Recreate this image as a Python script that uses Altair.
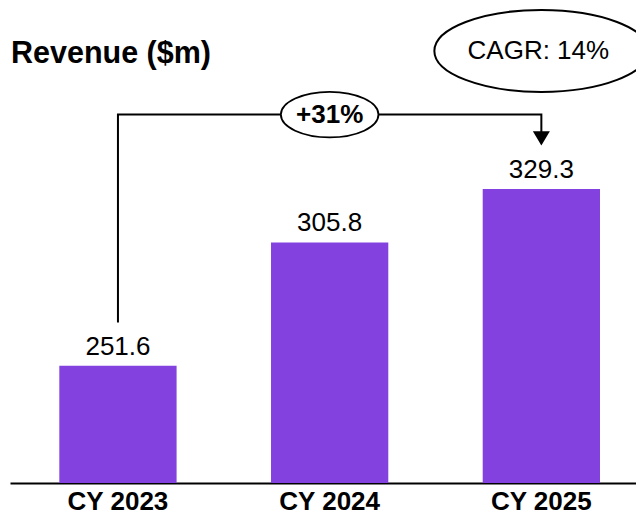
import altair as alt
import pandas as pd

# ---- data ----
years = ["CY 2023", "CY 2024", "CY 2025"]
revenue = [251.6, 305.8, 329.3]
growth_text = "+31%"
cagr_text = "CAGR: 14%"
title_text = "Revenue ($m)"

# ---- annotation levels (data units on the revenue scale) ----
AXIS_MIN = 200
AXIS_MAX = 378.1
BRACKET_LEVEL = 362.0
LABEL_GAP = 19.0
ARROW_LEVEL = 352.2
CAGR_LEVEL = 390.0

FONT = "Liberation Sans"
PURPLE = "#8342DF"


def ellipse_path(ry):
    k = 0.5523
    return (
        f"M-1,0C-1,{-ry*k:.4f} {-k},{-ry:.4f} 0,{-ry:.4f}"
        f"C{k},{-ry:.4f} 1,{-ry*k:.4f} 1,0"
        f"C1,{ry*k:.4f} {k},{ry:.4f} 0,{ry:.4f}"
        f"C{-k},{ry:.4f} -1,{ry*k:.4f} -1,0Z"
    )


bars_df = pd.DataFrame({"year": years, "v": revenue})
bracket_df = pd.DataFrame({
    "year": [years[0], years[0], years[2], years[2]],
    "v": [revenue[0] + LABEL_GAP, BRACKET_LEVEL, BRACKET_LEVEL, ARROW_LEVEL],
    "order": [0, 1, 2, 3],
})
growth_df = pd.DataFrame({"year": [years[1]], "v": [BRACKET_LEVEL], "text": [growth_text]})
arrow_df = pd.DataFrame({"year": [years[2]], "v": [ARROW_LEVEL]})
cagr_df = pd.DataFrame({"year": [years[2]], "v": [CAGR_LEVEL], "text": [cagr_text]})
title_df = pd.DataFrame({"text": [title_text]})

x_enc = alt.X(
    "year:N",
    sort=years,
    scale=alt.Scale(paddingInner=0.446, paddingOuter=0.2015, align=0.578),
    axis=alt.Axis(
        title=None,
        labelAngle=0,
        labelFont=FONT,
        labelFontSize=26,
        labelFontWeight="bold",
        labelColor="black",
        labelBaseline="alphabetic",
        labelPadding=26,
        ticks=False,
        tickSize=0,
        grid=False,
        domainColor="black",
        domainWidth=2,
    ),
)
y_enc = alt.Y("v:Q", scale=alt.Scale(domain=[AXIS_MIN, AXIS_MAX], nice=False, zero=False), axis=None)

bars = alt.Chart(bars_df).mark_bar(color=PURPLE).encode(
    x=x_enc, y=y_enc, y2=alt.datum(AXIS_MIN)
)

values = alt.Chart(bars_df).mark_text(
    dy=-11, baseline="alphabetic", align="center", font=FONT, fontSize=26, color="black"
).encode(x=x_enc, y=y_enc, text=alt.Text("v:Q", format=".1f"))

bracket = alt.Chart(bracket_df).mark_line(
    color="black", strokeWidth=2, strokeJoin="miter", strokeCap="butt"
).encode(x=x_enc, y=y_enc, order="order:Q")

arrow = alt.Chart(arrow_df).mark_point(
    shape="M-1,-0.65L1,-0.65L0,1Z", size=289, filled=True, color="black", opacity=1, strokeWidth=0
).encode(x=x_enc, y=y_enc)

growth_ell = alt.Chart(growth_df).mark_point(
    shape=ellipse_path(0.467), size=97.6 ** 2, filled=True, fill="white",
    stroke="black", strokeWidth=1.8, opacity=1
).encode(x=x_enc, y=y_enc)

growth_txt = alt.Chart(growth_df).mark_text(
    baseline="middle", align="center", font=FONT, fontSize=26, fontWeight="bold", color="black"
).encode(x=x_enc, y=y_enc, text="text:N")

cagr_ell = alt.Chart(cagr_df).mark_point(
    shape=ellipse_path(0.383), size=214 ** 2, filled=True, fill="white",
    stroke="black", strokeWidth=2, opacity=1
).encode(x=x_enc, y=y_enc)

cagr_txt = alt.Chart(cagr_df).mark_text(
    baseline="middle", align="center", font=FONT, fontSize=26, color="black", dx=-3
).encode(x=x_enc, y=y_enc, text="text:N")

title = alt.Chart(title_df).mark_text(
    align="left", baseline="alphabetic", font=FONT, fontSize=30.5, fontWeight="bold", color="black"
).encode(x=alt.value(1), y=alt.value(-15), text="text:N")

chart = alt.layer(
    bars, values, bracket, arrow, growth_ell, growth_txt, cagr_ell, cagr_txt, title
).properties(
    width=626,
    height=405,
    padding={"left": 2, "top": 70, "right": 0, "bottom": 32},
    autosize=alt.AutoSizeParams(type="none"),
    background="white",
).configure_view(stroke=None)

chart.save("out.html", embed_options={"renderer": "svg", "actions": False})
